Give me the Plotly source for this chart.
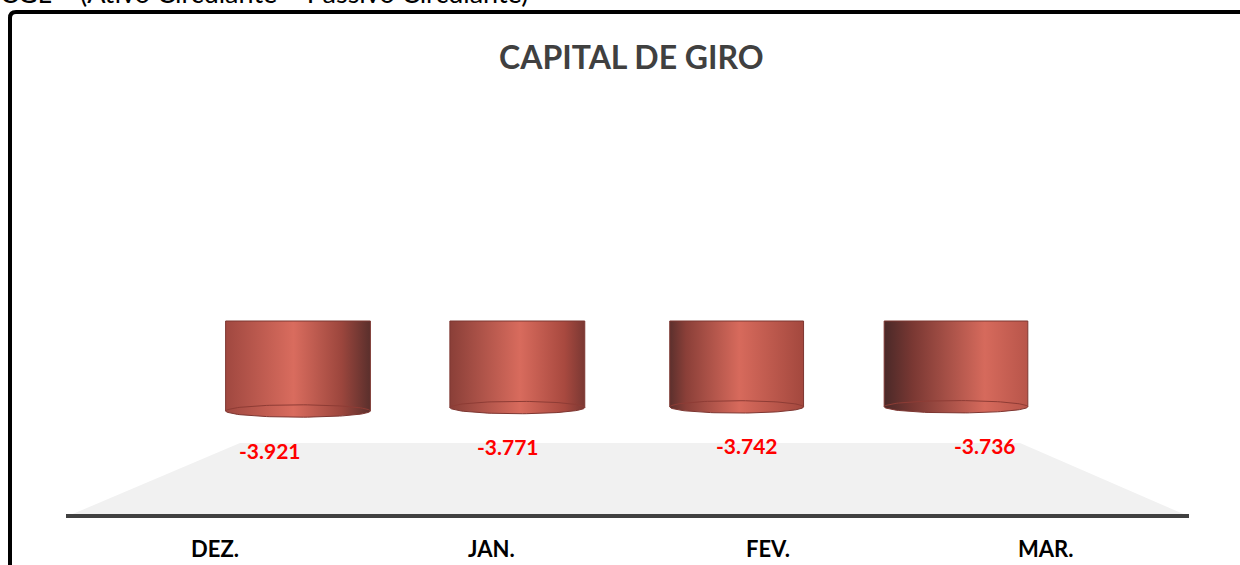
import numpy as np
import plotly.graph_objects as go

W, H = 1240, 565

# ---- data ----
categories = ["DEZ.", "JAN.", "FEV.", "MAR."]
values = [-3921, -3771, -3742, -3736]
title_text = "CAPITAL DE GIRO"
header_text = "CGL = (Ativo Circulante – Passivo Circulante)"

# ---- style ----
FONT = "Lato"
bar_widths = [0.66, 0.615, 0.61, 0.655]
gradients = [
    [[0, "#a04840"], [0.47, "#d96c5e"], [0.8, "#9c463d"], [1, "#5a2f2c"]],
    [[0, "#8a3f38"], [0.52, "#d86b5d"], [0.85, "#a8493f"], [1, "#7a3833"]],
    [[0, "#5c302d"], [0.12, "#8a3f38"], [0.52, "#d76a5c"], [1, "#a3483e"]],
    [[0, "#4a2928"], [0.2, "#7a3833"], [0.7, "#d66a5c"], [1, "#b8554a"]],
]
ell = 270  # ellipse half-depth in value units
label_y = [450, 446, 445, 445]


def px(x):
    return x / W


def py(y):
    return 1 - y / H


fig = go.Figure()

t_front = np.linspace(0, -np.pi, 60)
t_back = np.linspace(0, np.pi, 60)
for i, (cat, v) in enumerate(zip(categories, values)):
    w = bar_widths[i] / 2
    xs = [i - w, i + w] + list(i + w * np.cos(t_front)) + [i - w]
    ys = [0, 0] + list(v + ell * np.sin(t_front)) + [0]
    fig.add_trace(go.Scatter(
        x=xs, y=ys, xaxis="x2", yaxis="y", mode="lines", fill="toself",
        fillgradient=dict(type="horizontal", colorscale=gradients[i]),
        line=dict(color="#7d3631", width=1), hoverinfo="skip", showlegend=False,
    ))
    fig.add_trace(go.Scatter(
        x=list(i + w * np.cos(t_back)), y=list(v + ell * np.sin(t_back)),
        xaxis="x2", yaxis="y", mode="lines",
        line=dict(color="#8e3c35", width=1), hoverinfo="skip", showlegend=False,
    ))

# value labels
for i, v in enumerate(values):
    fig.add_annotation(
        x=i, xref="x3", y=py(label_y[i]), yref="paper", yanchor="middle",
        text=f"{v:,}".replace(",", "."),
        showarrow=False, font=dict(family=FONT, size=21, color="#ff0000", weight="bold"),
    )

# category labels (on the category axis scale)
for i, c in enumerate(categories):
    fig.add_annotation(
        x=i, xref="x", y=py(548), yref="paper", yanchor="middle", text=c,
        showarrow=False, font=dict(family=FONT, size=22, color="#000000", weight="bold"),
    )

shapes = [
    # floor
    dict(type="path", xref="paper", yref="paper", layer="below",
         path=f"M {px(240)},{py(443)} L {px(1020)},{py(443)} L {px(1188)},{py(516)} L {px(68)},{py(516)} Z",
         fillcolor="#f1f1f1", line=dict(width=0)),
    # baseline
    dict(type="line", xref="paper", yref="paper", x0=px(66), x1=px(1189), y0=py(516), y1=py(516),
         line=dict(color="#404040", width=4)),
    # frame
    dict(type="path", xref="paper", yref="paper",
         path=f"M {px(10)},{py(570)} L {px(10)},{py(18)} Q {px(10)},{py(12)} {px(16)},{py(12)} L {px(1245)},{py(12)}",
         line=dict(color="#000000", width=4)),
]

fig.add_annotation(
    x=px(497), xref="paper", xanchor="left", y=py(57), yref="paper", yanchor="middle",
    text=title_text, showarrow=False,
    font=dict(family=FONT, size=32, color="#404040", weight="bold"),
)
fig.add_annotation(
    x=px(-2), xref="paper", xanchor="left", y=py(11), yref="paper", yanchor="bottom",
    text=header_text, showarrow=False,
    font=dict(family=FONT, size=27, color="#000000"),
)

# axis mappings (pixel-based)
r_lab = [(0 - 215) / 276.67, (W - 215) / 276.67]
r_bar = [(0 - 298) / 219.33, (W - 298) / 219.33]
r_val = [(0 - 270) / 238.33, (W - 270) / 238.33]
ppu = 3921 / 90
y_range = [-(H - 321) * ppu, 321 * ppu]

fig.update_layout(
    width=W, height=H,
    margin=dict(l=0, r=0, t=0, b=0),
    paper_bgcolor="white", plot_bgcolor="rgba(0,0,0,0)",
    shapes=shapes,
    showlegend=False,
    xaxis=dict(range=r_lab, domain=[0, 1], visible=False, fixedrange=True),
    xaxis2=dict(range=r_bar, overlaying="x", visible=False, fixedrange=True),
    xaxis3=dict(range=r_val, overlaying="x", visible=False, fixedrange=True),
    yaxis=dict(range=y_range, domain=[0, 1], visible=False, fixedrange=True),
)

fig.write_html("out.html", config={"displayModeBar": False},
               post_script="document.body.style.margin='0';")
